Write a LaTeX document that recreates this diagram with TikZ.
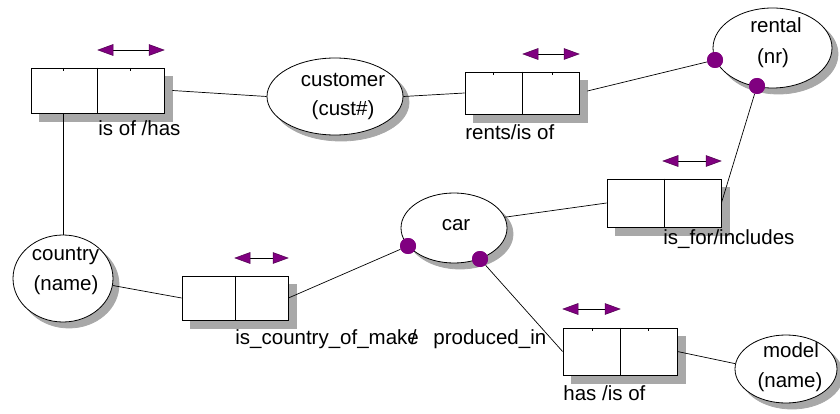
\documentclass[tikz,border=0pt]{standalone}
\usepackage{fontspec}
\setmainfont{Liberation Sans}
\usetikzlibrary{shapes.geometric}
\definecolor{relpurple}{RGB}{128,0,128}
\definecolor{shadegray}{rgb}{0.66,0.66,0.66}

% double-headed orientation arrow above a relationship box: x-left, x-right, y
\newcommand\orient[3]{%
  \draw[line width=0.7pt] (#1+12,#3) -- (#2-12,#3);
  \filldraw[headfill] (#1,#3) -- (#1+15,#3-5.5) -- (#1+15,#3+5.5) -- cycle;
  \filldraw[headfill] (#2,#3) -- (#2-15,#3-5.5) -- (#2-15,#3+5.5) -- cycle;}
% relationship box with its shadow: name, x, y, width, height
\newcommand\relnode[5]{%
  \path[fill=shadegray,draw=shadegray] (#2+8-#4/2,#3+8-#5/2) rectangle (#2+8+#4/2,#3+8+#5/2);
  \node[relbox,minimum width=#4pt,minimum height=#5pt] (#1) at (#2,#3) {};
  \draw (#1.north) -- (#1.south);}
% entity ellipse with its shadow: name, x, y, width, height
\newcommand\entnode[5]{%
  \path[fill=shadegray,draw=shadegray] (#2+6,#3+6) ellipse [x radius=#4/2, y radius=#5/2];
  \node[entity,minimum width=#4pt,minimum height=#5pt] (#1) at (#2,#3) {};}

\begin{document}
\begin{tikzpicture}[x=1pt,y=-1pt,line width=0.8pt,
  txt/.style={font=\fontsize{20.5}{24}\selectfont,inner sep=0pt,
              text height=0.72em,text depth=0.21em},
  lbl/.style={txt,anchor=west},
  relbox/.style={draw,fill=white,rectangle,inner sep=0pt},
  entity/.style={draw,fill=white,ellipse,inner sep=0pt},
  role/.style={circle,fill=relpurple,inner sep=0pt,minimum size=16pt},
  headfill/.style={fill=relpurple,draw=relpurple!60!black,line width=0.5pt},
  link/.style={line width=0.7pt}]
\useasboundingbox (0,0) rectangle (840,414);

% relationship boxes
\relnode{isof}{97.5}{90.5}{133}{45}
\relnode{rents}{522}{93}{114}{42}
\relnode{isfor}{664}{203}{114}{48}
\relnode{hasis}{620}{351.5}{114}{47}
\relnode{make}{235}{298}{106}{44}

% small ticks on the top edges
\draw[line width=0.5pt] (63,68) -- (63,71) (130,68) -- (130,71);
\draw[line width=0.5pt] (493,72) -- (493,75) (552,72) -- (552,75);
\draw[line width=0.5pt] (592,328) -- (592,331) (648,328) -- (648,331);

% entities
\entnode{customer}{335}{96.5}{136}{77}
\entnode{rental}{772.5}{48}{119}{80}
\entnode{car}{454}{228}{106}{70}
\entnode{country}{63}{278.5}{100}{87}
\entnode{model}{786}{369}{102}{68}

\node[txt] (customer1) at (343,83.5) {customer};
\node[txt] (customer2) at (343,113) {(cust\#)};
\node[txt] (rental1) at (776,30) {rental};
\node[txt] (rental2) at (773,61) {(nr)};
\node[txt] (car1) at (456,228) {car};
\node[txt] (country1) at (65.5,258) {country};
\node[txt] (country2) at (66,288) {(name)};
\node[txt] (model1) at (791,355) {model};
\node[txt] (model2) at (790,385) {(name)};

% relationship names
\node[lbl] (l1) at (98,133) {is of /has};
\node[lbl] (l2) at (465,137) {rents/is of};
\node[lbl] (l3) at (663,242) {is\_for/includes};
\node[lbl] (l4) at (235,342) {is\_country\_of\_mak\rlap{\kern3.5pt/}e};
\node[lbl] (l5) at (433,342) {produced\_in};
\node[lbl] (l6) at (563,398) {has /is of};

% role markers
\node[role] (r1) at (715,60) {};
\node[role] (r2) at (757,86) {};
\node[role] (c1) at (408,246) {};
\node[role] (c2) at (480,259) {};

% connectors
\draw[link] ([xshift=8pt]isof.east) -- (customer.west);
\draw[link] ([xshift=-34.5pt]isof.south) -- (country.north);
\draw[link] (customer.east) -- (rents.west);
\draw[link] ([xshift=8pt,yshift=2pt]rents.east) -- (r1);
\draw[link] (r2) -- (isfor.east);
\draw[link] (car.12) -- (isfor.west);
\draw[link] (country.-8) -- (make.west);
\draw[link] (make.east) -- (c1);
\draw[link] (c2) -- (hasis.west);
\draw[link] (hasis.east) -- (model.174);
% markers on top of the connector ends
\foreach \m in {r1,r2,c1,c2} \fill[relpurple] (\m) circle (8pt);

% orientation arrows
\orient{98}{164}{50}
\orient{523}{579}{54}
\orient{663}{721}{161}
\orient{563}{620}{309}
\orient{235}{288}{258}
\end{tikzpicture}
\end{document}
